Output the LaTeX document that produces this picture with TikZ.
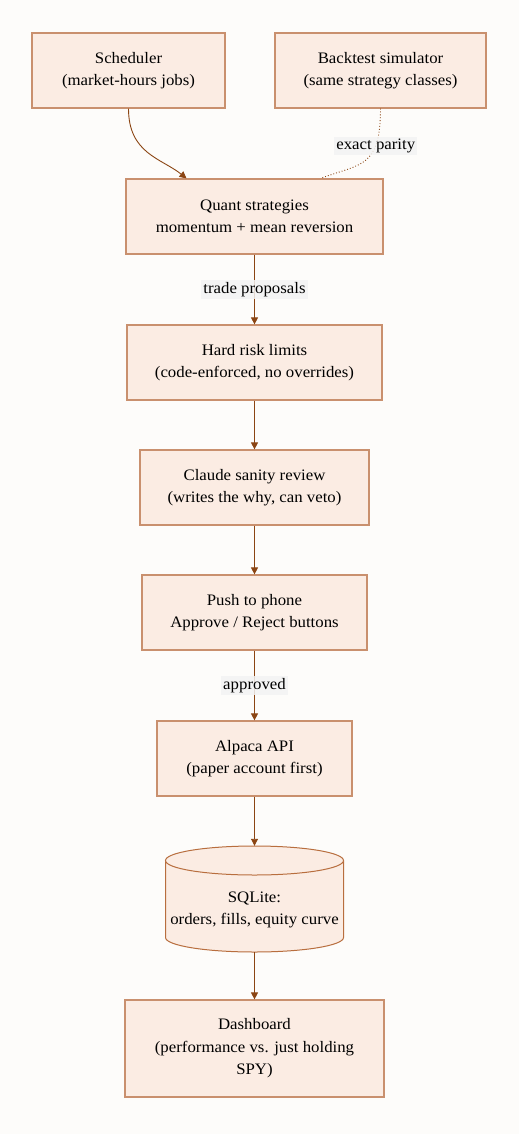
\documentclass[tikz,border=0pt]{standalone}
\usepackage{fontspec}
\setmainfont{Liberation Serif}[FakeStretch=1.05]
\usetikzlibrary{arrows.meta}
\definecolor{bg}{HTML}{FDFCFA}
\definecolor{boxfill}{HTML}{FBECE3}
\definecolor{boxdraw}{HTML}{C9906E}
\definecolor{arr}{HTML}{8B4513}
\definecolor{dbdraw}{HTML}{B86E3E}
\definecolor{lblbg}{HTML}{F3F3F3}
\tikzset{
  x=1pt,y=-1pt,
  txt/.style={align=center,font=\fontsize{16}{22.5}\selectfont},
  box/.style={draw=boxdraw,fill=boxfill,line width=1.2pt,rectangle,inner sep=0pt,txt},
  dbedge/.style={draw=dbdraw,line width=1pt},
  conn/.style={draw=arr,line width=0.9pt,-{Triangle[width=7pt,length=7pt]}},
  lbl/.style={fill=lblbg,fill opacity=0.85,text opacity=1,text=black,inner sep=2pt,font=\fontsize{16}{18}\selectfont},
}
\begin{document}
\begin{tikzpicture}
\fill[bg] (0,0) rectangle (519,1134);
\useasboundingbox (0,0) rectangle (519,1134);
\node[box,minimum width=193,minimum height=75] (sched) at (128.5,70.5) {Scheduler\\(market-hours jobs)};
\node[box,minimum width=211,minimum height=75] (back) at (380.5,70.5) {Backtest simulator\\(same strategy classes)};
\node[box,minimum width=257,minimum height=75] (quant) at (254.5,216.5) {Quant strategies\\momentum + mean reversion};
\node[box,minimum width=255,minimum height=75] (risk) at (254.5,362.5) {Hard risk limits\\(code-enforced, no overrides)};
\node[box,minimum width=229,minimum height=75] (claude) at (254.5,487.5) {Claude sanity review\\(writes the why, can veto)};
\node[box,minimum width=225,minimum height=75] (push) at (254.5,612.5) {Push to phone\\Approve / Reject buttons};
\node[box,minimum width=195,minimum height=75] (alpaca) at (254.5,758.5) {Alpaca API\\(paper account first)};
% cylinder (database)
\path[fill=boxfill] (165.5,860.5) -- (165.5,937.5) arc[start angle=180,end angle=0,x radius=89,y radius=14.5] -- (343.5,860.5) -- cycle;
\draw[dbedge] (165.5,860.5) -- (165.5,937.5) arc[start angle=180,end angle=0,x radius=89,y radius=14.5] -- (343.5,860.5);
\filldraw[dbedge,fill=boxfill] (254.5,860.5) ellipse[x radius=89,y radius=14.5];
\node[inner sep=0pt,minimum width=178,minimum height=106,label={[txt,yshift=-11pt]center:{SQLite:\\orders, fills, equity curve}}] (sql) at (254.5,899) {};
\node[box,minimum width=259,minimum height=97] (dash) at (254.5,1048.5) {Dashboard\\(performance vs. just holding\\SPY)};
\coordinate (qin1) at ([xshift=-68]quant.north);
\coordinate (qin2) at ([xshift=66]quant.north);
\draw[conn] (sched.south) .. controls ++(0,45) and ++(-25,-20) .. (qin1);
\draw[arr,line width=0.9pt,dotted] (back.south) .. controls ++(0,60) and ++(40,-15) .. node[lbl,pos=0.28] (par) {exact parity} (qin2);
\draw[conn] (quant.south) -- node[lbl] (tp) {trade proposals} (risk.north);
\draw[conn] (risk.south) -- (claude.north);
\draw[conn] (claude.south) -- (push.north);
\draw[conn] (push.south) -- node[lbl] (ap) {approved} (alpaca.north);
\draw[conn] (alpaca.south) -- (sql.north);
\draw[conn] (sql.south) -- (dash.north);
\end{tikzpicture}
\end{document}
